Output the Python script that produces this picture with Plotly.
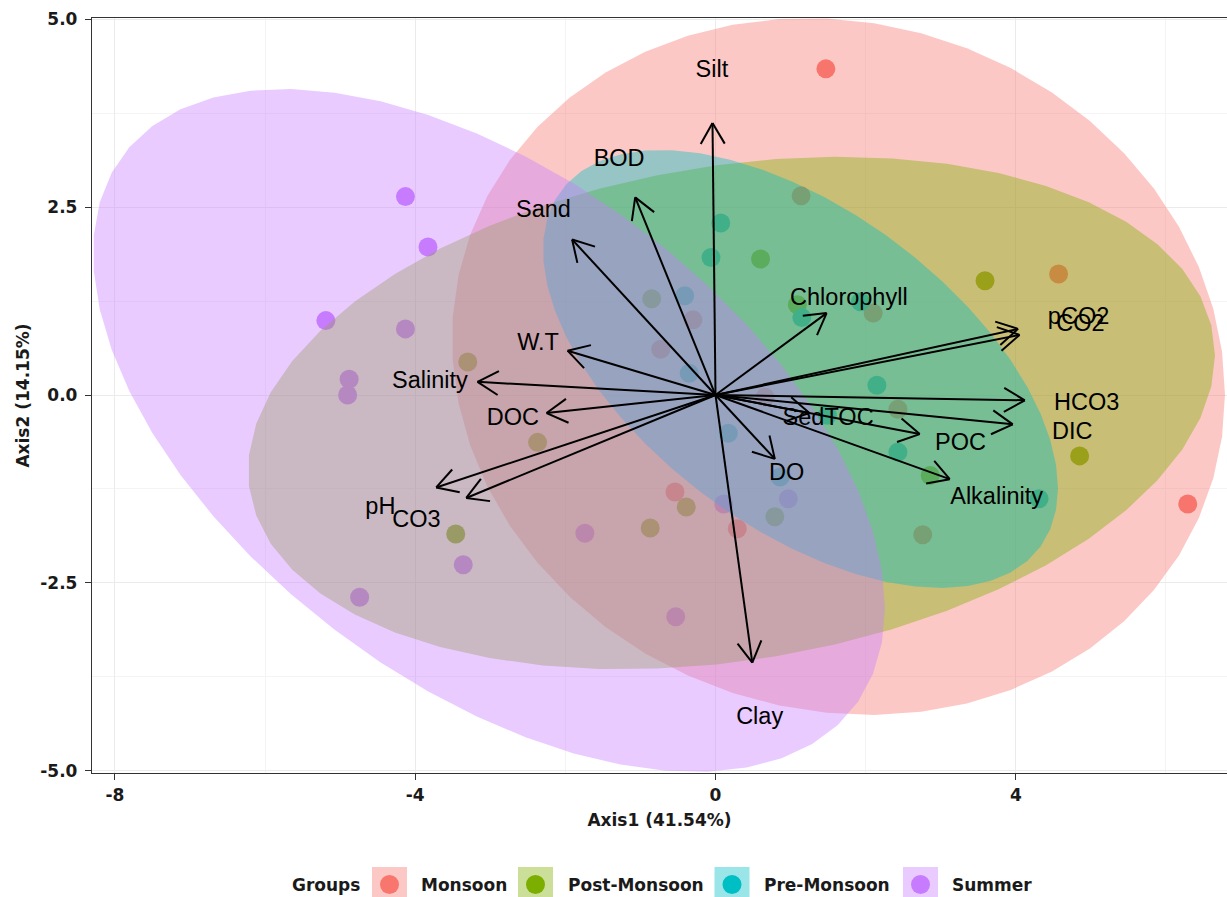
import numpy as np
import plotly.graph_objects as go

# ---- groups ---------------------------------------------------------------
groups = ["Monsoon", "Post-Monsoon", "Pre-Monsoon", "Summer"]
group_colors = ["#F8766D", "#7CAE00", "#00BFC4", "#C77CFF"]

# ---- sample scores on the first two axes ----------------------------------
monsoon_x = [1.47, 1.14, 4.57, 6.29, -0.54, 0.29, -0.30, -0.73, 0.66, 2.10, 2.43, 2.76]
monsoon_y = [4.34, 2.65, 1.61, -1.45, -1.29, -1.78, 1.00, 0.61, -0.03, 1.09, -0.19, -1.86]

post_x = [0.60, 3.59, -3.30, -2.37, 1.09, 2.86, 4.85, -0.39, -0.87, -3.46, -0.85, 0.79]
post_y = [1.81, 1.52, 0.44, -0.63, 1.20, -1.07, -0.81, -1.49, -1.77, -1.85, 1.28, -1.62]

pre_x = [0.07, -0.06, -0.41, -0.35, 1.15, 1.93, 2.15, 1.49, 2.43, 4.31, 0.17, 0.86]
pre_y = [2.29, 1.83, 1.32, 0.29, 1.03, 1.24, 0.13, -0.27, -0.76, -1.38, -0.51, -1.09]

summer_x = [-4.13, -3.83, -5.19, -4.13, -4.88, -4.90, 0.11, -1.74, -3.36, -4.74, -0.53, 0.97]
summer_y = [2.64, 1.97, 0.99, 0.88, 0.21, 0.00, -1.45, -1.84, -2.26, -2.69, -2.95, -1.38]

scores_x = [monsoon_x, post_x, pre_x, summer_x]
scores_y = [monsoon_y, post_y, pre_y, summer_y]

# ---- 95% confidence ellipses (centre, half-extent along x / y, correlation) ---
ellipse_cx = [1.638, 0.213, 1.132, -3.017]
ellipse_cy = [0.379, -0.240, 0.346, -0.472]
ellipse_sx = [5.148, 6.44, 3.43, 5.274]
ellipse_sy = [4.637, 3.41, 2.914, 4.544]
ellipse_r = [-0.08, 0.225, -0.544, -0.52]

# ---- variable loadings ----------------------------------------------------
variables = ["Silt", "BOD", "Sand", "Chlorophyll", "pCO2", "CO2", "HCO3", "DIC",
             "POC", "SedTOC", "Alkalinity", "DO", "Clay", "Salinity", "W.T",
             "DOC", "pH", "CO3"]
load_x = [-0.04, -1.07, -1.91, 1.48, 4.03, 4.05, 4.12, 3.96,
          2.72, 1.25, 3.12, 0.79, 0.49, -3.17, -1.97,
          -2.25, -3.72, -3.32]
load_y = [3.62, 2.63, 2.07, 1.09, 0.88, 0.80, -0.07, -0.39,
          -0.52, -0.24, -1.12, -0.85, -3.56, 0.175, 0.59,
          -0.24, -1.23, -1.37]
label_scale = 1.2

x_title = "Axis1 (41.54%)"
y_title = "Axis2 (14.15%)"
x_ticks = [-8, -4, 0, 4]
y_ticks = [-5.0, -2.5, 0.0, 2.5, 5.0]
legend_title = "Groups"

# ---- layout geometry ------------------------------------------------------
W, H = 1227, 897
ML, MR, MT, MB = 92, 0, 18, 124
x_range = [-8.305, 6.813]
y_range = [-5.03, 5.017]
plot_w = W - ML - MR
plot_h = H - MT - MB
kx = plot_w / (x_range[1] - x_range[0])  # px per data unit
ky = plot_h / (y_range[1] - y_range[0])

AX_FONT = dict(family="DejaVu Sans", size=17, color="#1a1a1a", weight="bold")


def rgba(hex_color, a):
    h = hex_color.lstrip("#")
    r, g, b = int(h[0:2], 16), int(h[2:4], 16), int(h[4:6], 16)
    return f"rgba({r},{g},{b},{a})"


fig = go.Figure()

# points first, ellipses are layered on top of them
for name, col, xs, ys in zip(groups, group_colors, scores_x, scores_y):
    fig.add_trace(go.Scatter(
        x=xs, y=ys, mode="markers", name=name, showlegend=False,
        marker=dict(size=19, color=col, line=dict(width=0)),
        hoverinfo="skip"))

t = np.linspace(0, 2 * np.pi, 52)
for name, col, cx, cy, sx, sy, r in zip(groups, group_colors, ellipse_cx, ellipse_cy,
                                        ellipse_sx, ellipse_sy, ellipse_r):
    ex = cx + sx * np.cos(t)
    ey = cy + sy * (r * np.cos(t) + np.sqrt(1 - r * r) * np.sin(t))
    fig.add_trace(go.Scatter(
        x=ex, y=ey, mode="lines", fill="toself", showlegend=False,
        fillcolor=rgba(col, 0.4), line=dict(width=0, color=rgba(col, 0)),
        hoverinfo="skip"))

# arrows with open heads
head_len = 24.0
head_ang = np.deg2rad(30)
ax_pts, ay_pts = [], []
for lx, ly in zip(load_x, load_y):
    ax_pts += [0, lx, None]
    ay_pts += [0, ly, None]
    dx, dy = lx * kx, ly * ky
    n = np.hypot(dx, dy)
    ux, uy = dx / n, dy / n
    for s in (1, -1):
        c, si = np.cos(s * head_ang), np.sin(s * head_ang)
        bx = ux * c - uy * si
        by = ux * si + uy * c
        ax_pts += [lx - head_len * bx / kx, lx, None]
        ay_pts += [ly - head_len * by / ky, ly, None]
fig.add_trace(go.Scatter(
    x=ax_pts, y=ay_pts, mode="lines", showlegend=False,
    line=dict(color="black", width=2), hoverinfo="skip"))

# variable names sit at 1.2x the loading; nudge down a little so the glyphs
# are optically centred on that point
text_nudge = 2.5 / ky
fig.add_trace(go.Scatter(
    x=[v * label_scale for v in load_x],
    y=[v * label_scale - text_nudge for v in load_y],
    mode="text", text=variables, textposition="middle center", showlegend=False,
    textfont=dict(family="Liberation Sans", size=23.5, color="black"),
    hoverinfo="skip"))

fig.update_layout(
    width=W, height=H,
    margin=dict(l=ML, r=MR, t=MT, b=MB, pad=0),
    paper_bgcolor="white", plot_bgcolor="white",
    showlegend=False,
)

fig.update_xaxes(
    range=x_range, tickvals=x_ticks, ticktext=[str(v) for v in x_ticks],
    ticks="outside", ticklen=6, tickwidth=1.3, tickcolor="#333333",
    showline=True, mirror=True, linecolor="#333333", linewidth=1.3,
    showgrid=True, gridcolor="#EBEBEB", gridwidth=1.3, zeroline=False,
    minor=dict(tickvals=[-6, -2, 2, 6], showgrid=True, gridcolor="#F4F4F4", gridwidth=0.8),
    tickfont=AX_FONT,
    title=dict(text=x_title, font=AX_FONT, standoff=10),
)
fig.update_yaxes(
    range=y_range, tickvals=y_ticks, ticktext=[f"{v:.1f}" for v in y_ticks],
    ticks="outside", ticklen=6, tickwidth=1.3, tickcolor="#333333",
    ticklabelstandoff=4,
    showline=True, linecolor="#333333", linewidth=1.3,
    showgrid=True, gridcolor="#EBEBEB", gridwidth=1.3, zeroline=False,
    minor=dict(tickvals=[-3.75, -1.25, 1.25, 3.75], showgrid=True, gridcolor="#F4F4F4", gridwidth=0.8),
    tickfont=AX_FONT,
    title=dict(text=y_title, font=AX_FONT, standoff=6),
)

# legend drawn below the panel
def px_to_paper_x(px):
    return (px - ML) / plot_w


def py_to_paper_y(py):
    return (H - MB - py) / plot_h


leg_cy = 884.5
key_centers = [389.5, 535.5, 732.0, 920.5]
text_lefts = [419, 566, 762, 950]
shapes = []
annotations = [dict(x=px_to_paper_x(290), y=py_to_paper_y(leg_cy), xref="paper", yref="paper",
                    text=legend_title, showarrow=False, xanchor="left", yanchor="middle",
                    font=AX_FONT)]
for name, col, kc, tl in zip(groups, group_colors, key_centers, text_lefts):
    shapes.append(dict(type="rect", xref="paper", yref="paper",
                       xsizemode="pixel", ysizemode="pixel",
                       xanchor=px_to_paper_x(kc), yanchor=py_to_paper_y(leg_cy),
                       x0=-17.5, x1=17.5, y0=-17.5, y1=17.5,
                       fillcolor=rgba(col, 0.4), line=dict(width=0)))
    shapes.append(dict(type="circle", xref="paper", yref="paper",
                       xsizemode="pixel", ysizemode="pixel",
                       xanchor=px_to_paper_x(kc), yanchor=py_to_paper_y(leg_cy),
                       x0=-9.5, x1=9.5, y0=-9.5, y1=9.5,
                       fillcolor=col, line=dict(width=0)))
    annotations.append(dict(x=px_to_paper_x(tl), y=py_to_paper_y(leg_cy), xref="paper", yref="paper",
                            text=name, showarrow=False, xanchor="left", yanchor="middle",
                            font=AX_FONT))
fig.update_layout(shapes=shapes, annotations=annotations)

fig.write_html("out.html")
